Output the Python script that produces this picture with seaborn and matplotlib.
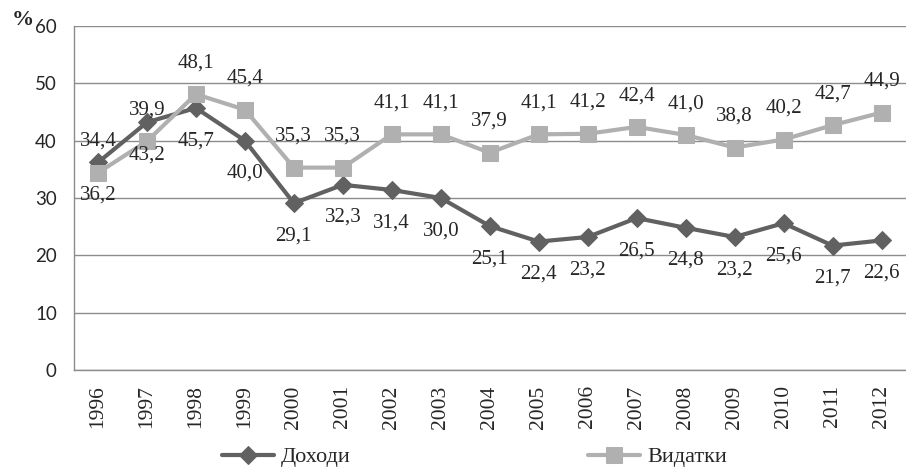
import matplotlib
matplotlib.use("Agg")
import matplotlib.pyplot as plt
import seaborn as sns
import pandas as pd

years = ["1996", "1997", "1998", "1999", "2000", "2001", "2002", "2003", "2004",
         "2005", "2006", "2007", "2008", "2009", "2010", "2011", "2012"]
dokhody = [36.2, 43.2, 45.7, 40.0, 29.1, 32.3, 31.4, 30.0, 25.1,
           22.4, 23.2, 26.5, 24.8, 23.2, 25.6, 21.7, 22.6]
vydatky = [34.4, 39.9, 48.1, 45.4, 35.3, 35.3, 41.1, 41.1, 37.9,
           41.1, 41.2, 42.4, 41.0, 38.8, 40.2, 42.7, 44.9]
series_names = ["Доходи", "Видатки"]
yticks = [0, 10, 20, 30, 40, 50, 60]

sns.set_theme(style="white")
plt.rcParams['font.family'] = ['Liberation Serif', 'DejaVu Serif']

dark = "#616161"
light = "#b0b0b0"

df = pd.DataFrame({"idx": list(range(len(years))), "year": years,
                   "d": dokhody, "v": vydatky})

fig = plt.figure(figsize=(9.06, 4.68), dpi=100)
ax = fig.add_axes([73.5/906, 1-370/468, (906-73.5)/906, (370-26)/468])

sns.lineplot(data=df, x="idx", y="d", ax=ax, color=dark, linewidth=3,
             marker="D", markersize=9, markeredgecolor=dark, label=series_names[0])
sns.lineplot(data=df, x="idx", y="v", ax=ax, color=light, linewidth=3,
             marker="s", markersize=11, markeredgecolor=light, label=series_names[1])

for i, (d, v) in enumerate(zip(dokhody, vydatky)):
    ax.annotate(f"{d:.1f}".replace(".", ","), (i, d), xytext=(0, -23.5),
                textcoords="offset points", ha="center", va="center", fontsize=15)
    ax.annotate(f"{v:.1f}".replace(".", ","), (i, v), xytext=(0, 22.5),
                textcoords="offset points", ha="center", va="center", fontsize=15)

ax.set_xlim(-0.5, len(years) - 0.5)
ax.set_ylim(0, 60)
ax.set_xticks(range(len(years)))
ax.set_xticklabels(years, rotation=90, fontsize=15.5)
ax.set_yticks(yticks)
ax.set_yticklabels([str(t) for t in yticks], fontsize=13.5, family=['Lato', 'DejaVu Sans'])
ax.tick_params(axis='x', length=0, pad=11)
ax.tick_params(axis='y', length=0, pad=12)
ax.set_xlabel("")
ax.set_ylabel("")
ax.grid(axis='y', color="#8c8c8c", linewidth=1)
ax.set_axisbelow(True)
for s in ["top", "right"]:
    ax.spines[s].set_visible(False)
for s in ["left", "bottom"]:
    ax.spines[s].set_color("#8c8c8c")
    ax.spines[s].set_linewidth(1)

ax.get_legend().remove()
handles, labels = ax.get_legend_handles_labels()
for h, lab, x0 in zip(handles, labels, [222, 588]):
    fig.legend([h], [lab], loc="center left", bbox_to_anchor=(x0/906, 1-457/468),
               frameon=False, fontsize=16, handlelength=2.35, handletextpad=0.3,
               borderpad=0, borderaxespad=0)

fig.text(12/906, 1-20/468, "%", fontsize=16, fontweight="bold", va="center", ha="left")

fig.savefig("out.png", dpi=100)
